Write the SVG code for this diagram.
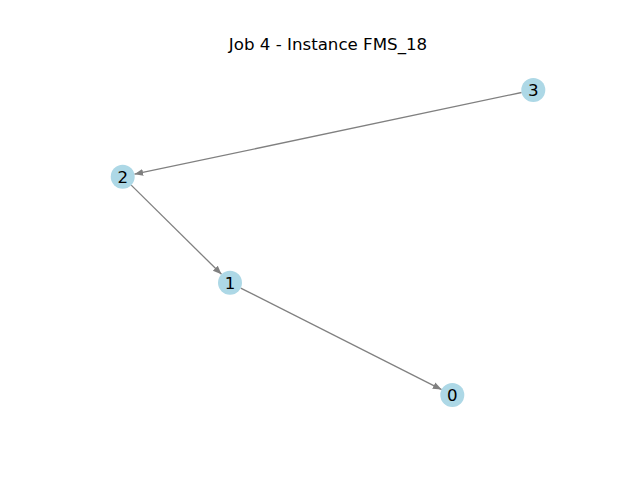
<svg xmlns="http://www.w3.org/2000/svg" width="640" height="480" viewBox="0 0 640 480">
  <style>
    .node circle { fill: #add8e6; }
    .node text { font-family: "DejaVu Sans", sans-serif; font-size: 16.67px; fill: #000; text-anchor: middle; }
    .edge { stroke: #808080; stroke-width: 1.3; fill: none; marker-end: url(#arrow); }
    .title { font-family: "DejaVu Sans", sans-serif; font-size: 16.67px; fill: #000; text-anchor: middle; }
  </style>
  <defs>
    <marker id="arrow" markerUnits="userSpaceOnUse" markerWidth="10" markerHeight="10" refX="7" refY="0" viewBox="0 -4 8 8" orient="auto">
      <path d="M0,-2.8 L7,0 L0,2.8 Z" fill="#808080"/>
    </marker>
  </defs>
  <rect width="640" height="480" fill="#ffffff"/>
  <text class="title" x="328" y="50">Job 4 - Instance FMS_18</text>
  <g id="edges">
    <line class="edge" x1="521.6" y1="92.5" x2="134.4" y2="174.2"/>
    <line class="edge" x1="131.2" y1="185.1" x2="221.5" y2="274.3"/>
    <line class="edge" x1="240.7" y1="288.1" x2="441.6" y2="389.6"/>
  </g>
  <g id="node3" class="node">
    <circle cx="533.3" cy="90" r="12"/>
    <text x="533.3" y="96">3</text>
  </g>
  <g id="node2" class="node">
    <circle cx="122.7" cy="176.7" r="12"/>
    <text x="122.7" y="182.7">2</text>
  </g>
  <g id="node1" class="node">
    <circle cx="230" cy="282.7" r="12"/>
    <text x="230" y="288.7">1</text>
  </g>
  <g id="node0" class="node">
    <circle cx="452.3" cy="395" r="12"/>
    <text x="452.3" y="401">0</text>
  </g>
</svg>
